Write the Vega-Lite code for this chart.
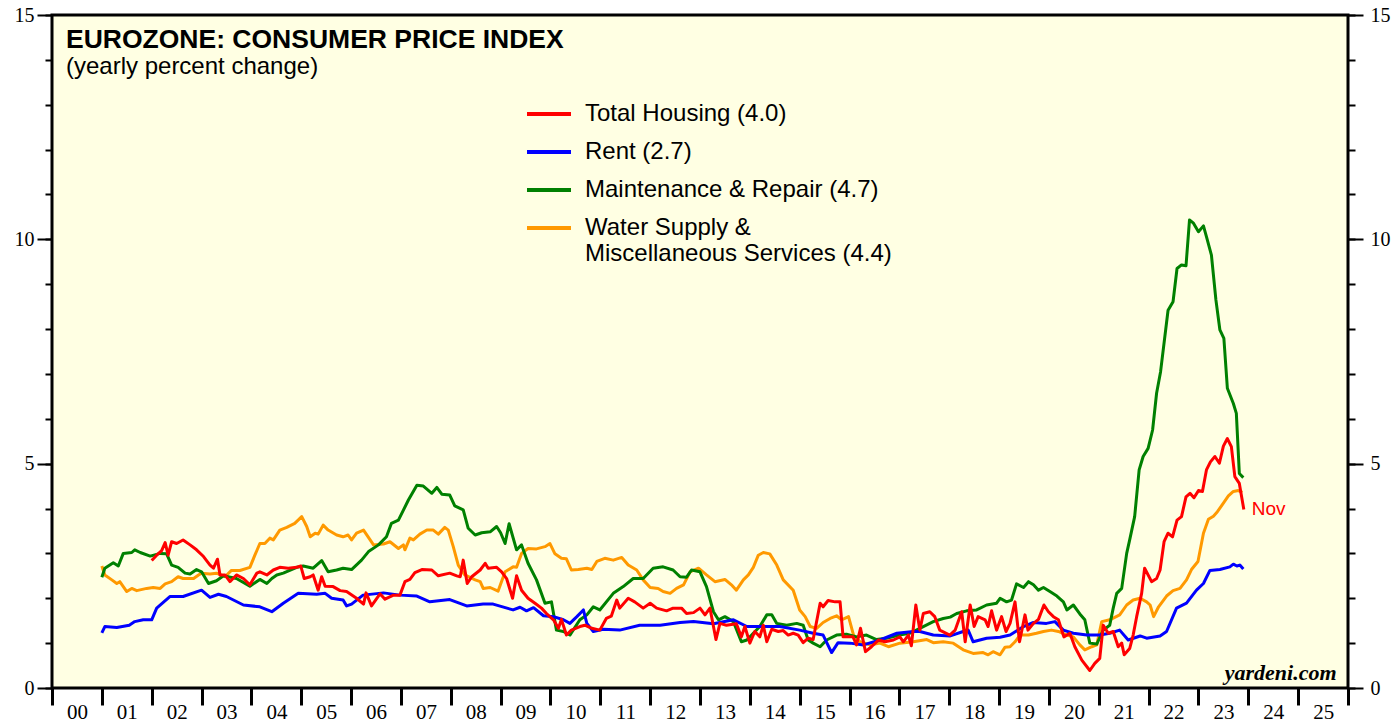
{
  "$schema": "https://vega.github.io/schema/vega-lite/v6.json",
  "width": 1296,
  "height": 673,
  "autosize": {"type": "none"},
  "padding": {"left": 52, "top": 15, "right": 46, "bottom": 31},
  "background": "white",
  "config": {"view": {"fill": "#FFFFE3", "stroke": "black", "strokeWidth": 3}, "font": "Liberation Sans"},
  "title": {"text": "EUROZONE: CONSUMER PRICE INDEX", "subtitle": "(yearly percent change)", "anchor": "start", "frame": "group", "orient": "top", "offset": 0, "dx": 14, "dy": 74, "font": "Liberation Sans", "fontSize": 26.5, "fontWeight": "bold", "color": "black", "subtitleFont": "Liberation Sans", "subtitleFontSize": 24, "subtitleColor": "black", "subtitlePadding": 2},
  "data": {"values": [
    {"s":"W","t":2001.0,"v":2.72},{"s":"W","t":2001.06,"v":2.52},{"s":"W","t":2001.2,"v":2.41},{"s":"W","t":2001.3,"v":2.33},{"s":"W","t":2001.36,"v":2.37},{"s":"W","t":2001.5,"v":2.15},{"s":"W","t":2001.6,"v":2.22},{"s":"W","t":2001.7,"v":2.17},{"s":"W","t":2001.9,"v":2.22},{"s":"W","t":2002.03,"v":2.24},{"s":"W","t":2002.17,"v":2.22},{"s":"W","t":2002.27,"v":2.32},{"s":"W","t":2002.4,"v":2.37},{"s":"W","t":2002.53,"v":2.48},{"s":"W","t":2002.63,"v":2.44},{"s":"W","t":2002.84,"v":2.44},{"s":"W","t":2002.94,"v":2.52},{"s":"W","t":2003.0,"v":2.56},{"s":"W","t":2003.17,"v":2.54},{"s":"W","t":2003.3,"v":2.56},{"s":"W","t":2003.47,"v":2.48},{"s":"W","t":2003.6,"v":2.62},{"s":"W","t":2003.77,"v":2.62},{"s":"W","t":2003.97,"v":2.69},{"s":"W","t":2004.07,"v":2.96},{"s":"W","t":2004.17,"v":3.22},{"s":"W","t":2004.27,"v":3.22},{"s":"W","t":2004.37,"v":3.34},{"s":"W","t":2004.44,"v":3.30},{"s":"W","t":2004.57,"v":3.52},{"s":"W","t":2004.71,"v":3.58},{"s":"W","t":2004.87,"v":3.67},{"s":"W","t":2005.01,"v":3.82},{"s":"W","t":2005.11,"v":3.60},{"s":"W","t":2005.18,"v":3.37},{"s":"W","t":2005.28,"v":3.45},{"s":"W","t":2005.34,"v":3.43},{"s":"W","t":2005.44,"v":3.63},{"s":"W","t":2005.54,"v":3.52},{"s":"W","t":2005.71,"v":3.41},{"s":"W","t":2005.84,"v":3.37},{"s":"W","t":2005.94,"v":3.41},{"s":"W","t":2006.01,"v":3.30},{"s":"W","t":2006.11,"v":3.45},{"s":"W","t":2006.25,"v":3.52},{"s":"W","t":2006.45,"v":3.19},{"s":"W","t":2006.65,"v":3.21},{"s":"W","t":2006.78,"v":3.26},{"s":"W","t":2006.95,"v":3.11},{"s":"W","t":2007.05,"v":3.19},{"s":"W","t":2007.08,"v":3.08},{"s":"W","t":2007.18,"v":3.34},{"s":"W","t":2007.25,"v":3.30},{"s":"W","t":2007.38,"v":3.43},{"s":"W","t":2007.52,"v":3.52},{"s":"W","t":2007.65,"v":3.52},{"s":"W","t":2007.75,"v":3.43},{"s":"W","t":2007.88,"v":3.58},{"s":"W","t":2007.95,"v":3.52},{"s":"W","t":2008.05,"v":3.15},{"s":"W","t":2008.15,"v":2.74},{"s":"W","t":2008.28,"v":2.52},{"s":"W","t":2008.49,"v":2.41},{"s":"W","t":2008.59,"v":2.37},{"s":"W","t":2008.65,"v":2.22},{"s":"W","t":2008.79,"v":2.24},{"s":"W","t":2008.95,"v":2.16},{"s":"W","t":2009.09,"v":2.59},{"s":"W","t":2009.25,"v":2.70},{"s":"W","t":2009.32,"v":2.69},{"s":"W","t":2009.42,"v":3.0},{"s":"W","t":2009.55,"v":3.11},{"s":"W","t":2009.72,"v":3.10},{"s":"W","t":2009.89,"v":3.15},{"s":"W","t":2009.99,"v":3.22},{"s":"W","t":2010.09,"v":2.99},{"s":"W","t":2010.22,"v":2.89},{"s":"W","t":2010.32,"v":2.88},{"s":"W","t":2010.42,"v":2.63},{"s":"W","t":2010.56,"v":2.64},{"s":"W","t":2010.73,"v":2.67},{"s":"W","t":2010.83,"v":2.64},{"s":"W","t":2010.93,"v":2.82},{"s":"W","t":2011.09,"v":2.89},{"s":"W","t":2011.26,"v":2.85},{"s":"W","t":2011.43,"v":2.91},{"s":"W","t":2011.56,"v":2.74},{"s":"W","t":2011.73,"v":2.63},{"s":"W","t":2011.86,"v":2.41},{"s":"W","t":2012.0,"v":2.24},{"s":"W","t":2012.16,"v":2.22},{"s":"W","t":2012.26,"v":2.15},{"s":"W","t":2012.4,"v":2.11},{"s":"W","t":2012.53,"v":2.22},{"s":"W","t":2012.67,"v":2.30},{"s":"W","t":2012.8,"v":2.59},{"s":"W","t":2012.97,"v":2.67},{"s":"W","t":2013.13,"v":2.52},{"s":"W","t":2013.3,"v":2.37},{"s":"W","t":2013.5,"v":2.42},{"s":"W","t":2013.63,"v":2.30},{"s":"W","t":2013.73,"v":2.18},{"s":"W","t":2013.87,"v":2.41},{"s":"W","t":2013.97,"v":2.52},{"s":"W","t":2014.07,"v":2.69},{"s":"W","t":2014.17,"v":2.96},{"s":"W","t":2014.27,"v":3.02},{"s":"W","t":2014.4,"v":2.99},{"s":"W","t":2014.54,"v":2.74},{"s":"W","t":2014.67,"v":2.41},{"s":"W","t":2014.87,"v":2.18},{"s":"W","t":2015.0,"v":1.74},{"s":"W","t":2015.11,"v":1.59},{"s":"W","t":2015.21,"v":1.37},{"s":"W","t":2015.34,"v":1.33},{"s":"W","t":2015.47,"v":1.46},{"s":"W","t":2015.61,"v":1.55},{"s":"W","t":2015.74,"v":1.61},{"s":"W","t":2015.84,"v":1.52},{"s":"W","t":2015.98,"v":1.59},{"s":"W","t":2016.08,"v":1.18},{"s":"W","t":2016.21,"v":1.03},{"s":"W","t":2016.41,"v":0.96},{"s":"W","t":2016.61,"v":1.0},{"s":"W","t":2016.78,"v":0.92},{"s":"W","t":2017.01,"v":1.0},{"s":"W","t":2017.28,"v":1.03},{"s":"W","t":2017.55,"v":1.08},{"s":"W","t":2017.68,"v":1.01},{"s":"W","t":2017.88,"v":1.03},{"s":"W","t":2018.08,"v":1.0},{"s":"W","t":2018.28,"v":0.85},{"s":"W","t":2018.48,"v":0.77},{"s":"W","t":2018.68,"v":0.79},{"s":"W","t":2018.78,"v":0.74},{"s":"W","t":2018.88,"v":0.81},{"s":"W","t":2019.02,"v":0.74},{"s":"W","t":2019.12,"v":0.91},{"s":"W","t":2019.22,"v":0.92},{"s":"W","t":2019.32,"v":1.03},{"s":"W","t":2019.42,"v":1.18},{"s":"W","t":2019.59,"v":1.18},{"s":"W","t":2019.75,"v":1.22},{"s":"W","t":2019.89,"v":1.26},{"s":"W","t":2020.05,"v":1.29},{"s":"W","t":2020.19,"v":1.26},{"s":"W","t":2020.36,"v":1.18},{"s":"W","t":2020.49,"v":1.14},{"s":"W","t":2020.62,"v":0.96},{"s":"W","t":2020.72,"v":0.85},{"s":"W","t":2020.86,"v":0.92},{"s":"W","t":2020.96,"v":0.96},{"s":"W","t":2021.06,"v":1.48},{"s":"W","t":2021.22,"v":1.52},{"s":"W","t":2021.42,"v":1.63},{"s":"W","t":2021.56,"v":1.85},{"s":"W","t":2021.69,"v":1.96},{"s":"W","t":2021.83,"v":2.0},{"s":"W","t":2021.96,"v":1.92},{"s":"W","t":2022.03,"v":1.85},{"s":"W","t":2022.1,"v":1.59},{"s":"W","t":2022.2,"v":1.81},{"s":"W","t":2022.36,"v":2.05},{"s":"W","t":2022.49,"v":2.17},{"s":"W","t":2022.63,"v":2.22},{"s":"W","t":2022.76,"v":2.41},{"s":"W","t":2022.86,"v":2.64},{"s":"W","t":2022.99,"v":2.82},{"s":"W","t":2023.1,"v":3.45},{"s":"W","t":2023.2,"v":3.76},{"s":"W","t":2023.3,"v":3.83},{"s":"W","t":2023.38,"v":3.93},{"s":"W","t":2023.5,"v":4.12},{"s":"W","t":2023.6,"v":4.28},{"s":"W","t":2023.7,"v":4.38},{"s":"W","t":2023.8,"v":4.40},{"s":"W","t":2023.88,"v":4.36},
    {"s":"M","t":2001.0,"v":2.47},{"s":"M","t":2001.06,"v":2.67},{"s":"M","t":2001.23,"v":2.79},{"s":"M","t":2001.33,"v":2.72},{"s":"M","t":2001.43,"v":3.0},{"s":"M","t":2001.6,"v":3.02},{"s":"M","t":2001.66,"v":3.08},{"s":"M","t":2001.77,"v":3.02},{"s":"M","t":2001.97,"v":2.94},{"s":"M","t":2002.17,"v":3.0},{"s":"M","t":2002.3,"v":2.99},{"s":"M","t":2002.4,"v":2.74},{"s":"M","t":2002.53,"v":2.69},{"s":"M","t":2002.67,"v":2.56},{"s":"M","t":2002.77,"v":2.54},{"s":"M","t":2002.9,"v":2.64},{"s":"M","t":2003.0,"v":2.59},{"s":"M","t":2003.14,"v":2.33},{"s":"M","t":2003.3,"v":2.39},{"s":"M","t":2003.44,"v":2.50},{"s":"M","t":2003.7,"v":2.44},{"s":"M","t":2003.97,"v":2.27},{"s":"M","t":2004.17,"v":2.42},{"s":"M","t":2004.31,"v":2.33},{"s":"M","t":2004.41,"v":2.44},{"s":"M","t":2004.51,"v":2.52},{"s":"M","t":2004.64,"v":2.56},{"s":"M","t":2004.91,"v":2.69},{"s":"M","t":2005.04,"v":2.72},{"s":"M","t":2005.24,"v":2.67},{"s":"M","t":2005.41,"v":2.84},{"s":"M","t":2005.54,"v":2.59},{"s":"M","t":2005.71,"v":2.63},{"s":"M","t":2005.84,"v":2.67},{"s":"M","t":2006.01,"v":2.64},{"s":"M","t":2006.21,"v":2.85},{"s":"M","t":2006.35,"v":3.04},{"s":"M","t":2006.55,"v":3.19},{"s":"M","t":2006.71,"v":3.37},{"s":"M","t":2006.81,"v":3.67},{"s":"M","t":2006.95,"v":3.74},{"s":"M","t":2007.15,"v":4.19},{"s":"M","t":2007.32,"v":4.52},{"s":"M","t":2007.45,"v":4.50},{"s":"M","t":2007.62,"v":4.34},{"s":"M","t":2007.72,"v":4.47},{"s":"M","t":2007.82,"v":4.32},{"s":"M","t":2007.98,"v":4.30},{"s":"M","t":2008.08,"v":4.06},{"s":"M","t":2008.25,"v":3.97},{"s":"M","t":2008.35,"v":3.56},{"s":"M","t":2008.49,"v":3.41},{"s":"M","t":2008.62,"v":3.46},{"s":"M","t":2008.79,"v":3.48},{"s":"M","t":2008.92,"v":3.60},{"s":"M","t":2009.0,"v":3.46},{"s":"M","t":2009.09,"v":3.22},{"s":"M","t":2009.17,"v":3.66},{"s":"M","t":2009.32,"v":3.08},{"s":"M","t":2009.42,"v":3.19},{"s":"M","t":2009.55,"v":2.78},{"s":"M","t":2009.72,"v":2.41},{"s":"M","t":2009.89,"v":1.89},{"s":"M","t":2010.02,"v":1.92},{"s":"M","t":2010.12,"v":1.29},{"s":"M","t":2010.26,"v":1.26},{"s":"M","t":2010.39,"v":1.18},{"s":"M","t":2010.59,"v":1.52},{"s":"M","t":2010.73,"v":1.63},{"s":"M","t":2010.86,"v":1.81},{"s":"M","t":2010.99,"v":1.74},{"s":"M","t":2011.26,"v":2.11},{"s":"M","t":2011.46,"v":2.26},{"s":"M","t":2011.66,"v":2.44},{"s":"M","t":2011.86,"v":2.44},{"s":"M","t":2012.06,"v":2.67},{"s":"M","t":2012.26,"v":2.70},{"s":"M","t":2012.46,"v":2.63},{"s":"M","t":2012.6,"v":2.48},{"s":"M","t":2012.73,"v":2.47},{"s":"M","t":2012.83,"v":2.63},{"s":"M","t":2013.0,"v":2.59},{"s":"M","t":2013.13,"v":2.26},{"s":"M","t":2013.27,"v":1.70},{"s":"M","t":2013.37,"v":1.52},{"s":"M","t":2013.5,"v":1.59},{"s":"M","t":2013.67,"v":1.48},{"s":"M","t":2013.83,"v":1.03},{"s":"M","t":2013.94,"v":1.07},{"s":"M","t":2014.07,"v":1.22},{"s":"M","t":2014.2,"v":1.37},{"s":"M","t":2014.34,"v":1.63},{"s":"M","t":2014.44,"v":1.63},{"s":"M","t":2014.54,"v":1.44},{"s":"M","t":2014.74,"v":1.40},{"s":"M","t":2014.94,"v":1.44},{"s":"M","t":2015.07,"v":1.40},{"s":"M","t":2015.17,"v":1.07},{"s":"M","t":2015.27,"v":1.0},{"s":"M","t":2015.41,"v":0.92},{"s":"M","t":2015.54,"v":1.07},{"s":"M","t":2015.74,"v":1.18},{"s":"M","t":2015.94,"v":1.20},{"s":"M","t":2016.14,"v":1.14},{"s":"M","t":2016.34,"v":1.18},{"s":"M","t":2016.54,"v":1.08},{"s":"M","t":2016.74,"v":1.11},{"s":"M","t":2017.0,"v":1.18},{"s":"M","t":2017.21,"v":1.22},{"s":"M","t":2017.41,"v":1.33},{"s":"M","t":2017.68,"v":1.48},{"s":"M","t":2017.88,"v":1.55},{"s":"M","t":2018.02,"v":1.58},{"s":"M","t":2018.15,"v":1.66},{"s":"M","t":2018.35,"v":1.72},{"s":"M","t":2018.55,"v":1.74},{"s":"M","t":2018.75,"v":1.85},{"s":"M","t":2018.95,"v":1.89},{"s":"M","t":2019.02,"v":2.0},{"s":"M","t":2019.15,"v":1.92},{"s":"M","t":2019.25,"v":1.96},{"s":"M","t":2019.35,"v":2.32},{"s":"M","t":2019.49,"v":2.24},{"s":"M","t":2019.59,"v":2.37},{"s":"M","t":2019.69,"v":2.30},{"s":"M","t":2019.79,"v":2.18},{"s":"M","t":2019.89,"v":2.24},{"s":"M","t":2020.02,"v":2.15},{"s":"M","t":2020.16,"v":2.05},{"s":"M","t":2020.29,"v":1.92},{"s":"M","t":2020.36,"v":1.74},{"s":"M","t":2020.49,"v":1.85},{"s":"M","t":2020.62,"v":1.65},{"s":"M","t":2020.72,"v":1.52},{"s":"M","t":2020.82,"v":1.0},{"s":"M","t":2020.96,"v":0.98},{"s":"M","t":2021.09,"v":1.29},{"s":"M","t":2021.22,"v":1.40},{"s":"M","t":2021.29,"v":1.78},{"s":"M","t":2021.36,"v":2.11},{"s":"M","t":2021.46,"v":2.22},{"s":"M","t":2021.56,"v":3.0},{"s":"M","t":2021.62,"v":3.30},{"s":"M","t":2021.72,"v":3.82},{"s":"M","t":2021.81,"v":4.86},{"s":"M","t":2021.89,"v":5.16},{"s":"M","t":2021.99,"v":5.34},{"s":"M","t":2022.08,"v":5.75},{"s":"M","t":2022.16,"v":6.57},{"s":"M","t":2022.24,"v":7.05},{"s":"M","t":2022.39,"v":8.42},{"s":"M","t":2022.49,"v":8.61},{"s":"M","t":2022.57,"v":9.35},{"s":"M","t":2022.66,"v":9.43},{"s":"M","t":2022.75,"v":9.41},{"s":"M","t":2022.82,"v":10.43},{"s":"M","t":2022.9,"v":10.36},{"s":"M","t":2023.0,"v":10.17},{"s":"M","t":2023.1,"v":10.30},{"s":"M","t":2023.16,"v":10.06},{"s":"M","t":2023.26,"v":9.65},{"s":"M","t":2023.35,"v":8.65},{"s":"M","t":2023.43,"v":7.98},{"s":"M","t":2023.51,"v":7.79},{"s":"M","t":2023.58,"v":6.68},{"s":"M","t":2023.7,"v":6.34},{"s":"M","t":2023.76,"v":6.12},{"s":"M","t":2023.82,"v":4.78},{"s":"M","t":2023.9,"v":4.69},
    {"s":"R","t":2001.0,"v":1.23},{"s":"R","t":2001.06,"v":1.37},{"s":"R","t":2001.3,"v":1.35},{"s":"R","t":2001.55,"v":1.40},{"s":"R","t":2001.66,"v":1.48},{"s":"R","t":2001.83,"v":1.52},{"s":"R","t":2002.0,"v":1.52},{"s":"R","t":2002.1,"v":1.78},{"s":"R","t":2002.37,"v":2.04},{"s":"R","t":2002.63,"v":2.04},{"s":"R","t":2003.0,"v":2.18},{"s":"R","t":2003.17,"v":2.02},{"s":"R","t":2003.34,"v":2.09},{"s":"R","t":2003.5,"v":2.04},{"s":"R","t":2003.84,"v":1.85},{"s":"R","t":2004.17,"v":1.81},{"s":"R","t":2004.41,"v":1.70},{"s":"R","t":2004.64,"v":1.89},{"s":"R","t":2004.94,"v":2.11},{"s":"R","t":2005.31,"v":2.09},{"s":"R","t":2005.48,"v":2.11},{"s":"R","t":2005.61,"v":2.0},{"s":"R","t":2005.84,"v":1.96},{"s":"R","t":2005.91,"v":1.83},{"s":"R","t":2006.01,"v":1.87},{"s":"R","t":2006.24,"v":2.07},{"s":"R","t":2006.65,"v":2.12},{"s":"R","t":2006.98,"v":2.07},{"s":"R","t":2007.32,"v":2.05},{"s":"R","t":2007.58,"v":1.92},{"s":"R","t":2007.98,"v":1.97},{"s":"R","t":2008.32,"v":1.83},{"s":"R","t":2008.65,"v":1.87},{"s":"R","t":2008.85,"v":1.87},{"s":"R","t":2009.25,"v":1.74},{"s":"R","t":2009.39,"v":1.80},{"s":"R","t":2009.52,"v":1.72},{"s":"R","t":2009.66,"v":1.79},{"s":"R","t":2009.86,"v":1.61},{"s":"R","t":2010.06,"v":1.59},{"s":"R","t":2010.26,"v":1.52},{"s":"R","t":2010.39,"v":1.44},{"s":"R","t":2010.53,"v":1.59},{"s":"R","t":2010.66,"v":1.74},{"s":"R","t":2010.73,"v":1.44},{"s":"R","t":2010.86,"v":1.26},{"s":"R","t":2011.06,"v":1.31},{"s":"R","t":2011.39,"v":1.29},{"s":"R","t":2011.79,"v":1.40},{"s":"R","t":2012.2,"v":1.40},{"s":"R","t":2012.6,"v":1.46},{"s":"R","t":2012.87,"v":1.48},{"s":"R","t":2013.27,"v":1.43},{"s":"R","t":2013.67,"v":1.52},{"s":"R","t":2013.94,"v":1.37},{"s":"R","t":2014.27,"v":1.37},{"s":"R","t":2014.6,"v":1.37},{"s":"R","t":2015.0,"v":1.29},{"s":"R","t":2015.27,"v":1.22},{"s":"R","t":2015.47,"v":1.18},{"s":"R","t":2015.64,"v":0.79},{"s":"R","t":2015.77,"v":1.01},{"s":"R","t":2016.01,"v":1.0},{"s":"R","t":2016.28,"v":0.96},{"s":"R","t":2016.61,"v":1.07},{"s":"R","t":2016.95,"v":1.22},{"s":"R","t":2017.28,"v":1.26},{"s":"R","t":2017.41,"v":1.26},{"s":"R","t":2017.68,"v":1.18},{"s":"R","t":2018.02,"v":1.16},{"s":"R","t":2018.28,"v":1.26},{"s":"R","t":2018.38,"v":1.29},{"s":"R","t":2018.48,"v":1.03},{"s":"R","t":2018.75,"v":1.11},{"s":"R","t":2019.02,"v":1.13},{"s":"R","t":2019.22,"v":1.18},{"s":"R","t":2019.49,"v":1.37},{"s":"R","t":2019.69,"v":1.46},{"s":"R","t":2019.95,"v":1.44},{"s":"R","t":2020.12,"v":1.48},{"s":"R","t":2020.29,"v":1.29},{"s":"R","t":2020.49,"v":1.22},{"s":"R","t":2020.76,"v":1.18},{"s":"R","t":2021.02,"v":1.18},{"s":"R","t":2021.22,"v":1.22},{"s":"R","t":2021.42,"v":1.29},{"s":"R","t":2021.59,"v":1.07},{"s":"R","t":2021.83,"v":1.16},{"s":"R","t":2021.96,"v":1.11},{"s":"R","t":2022.23,"v":1.16},{"s":"R","t":2022.36,"v":1.26},{"s":"R","t":2022.56,"v":1.78},{"s":"R","t":2022.76,"v":1.89},{"s":"R","t":2022.96,"v":2.18},{"s":"R","t":2023.1,"v":2.33},{"s":"R","t":2023.23,"v":2.62},{"s":"R","t":2023.43,"v":2.64},{"s":"R","t":2023.63,"v":2.70},{"s":"R","t":2023.7,"v":2.76},{"s":"R","t":2023.77,"v":2.72},{"s":"R","t":2023.83,"v":2.74},{"s":"R","t":2023.9,"v":2.65},
    {"s":"H","t":2002.0,"v":2.84},{"s":"H","t":2002.1,"v":2.96},{"s":"H","t":2002.2,"v":3.06},{"s":"H","t":2002.27,"v":3.24},{"s":"H","t":2002.33,"v":2.96},{"s":"H","t":2002.4,"v":3.26},{"s":"H","t":2002.5,"v":3.22},{"s":"H","t":2002.63,"v":3.30},{"s":"H","t":2002.77,"v":3.19},{"s":"H","t":2002.9,"v":3.08},{"s":"H","t":2003.04,"v":2.93},{"s":"H","t":2003.17,"v":2.74},{"s":"H","t":2003.24,"v":2.67},{"s":"H","t":2003.32,"v":2.87},{"s":"H","t":2003.37,"v":2.52},{"s":"H","t":2003.47,"v":2.52},{"s":"H","t":2003.57,"v":2.37},{"s":"H","t":2003.7,"v":2.52},{"s":"H","t":2003.84,"v":2.44},{"s":"H","t":2003.97,"v":2.30},{"s":"H","t":2004.11,"v":2.56},{"s":"H","t":2004.17,"v":2.59},{"s":"H","t":2004.31,"v":2.52},{"s":"H","t":2004.44,"v":2.63},{"s":"H","t":2004.57,"v":2.69},{"s":"H","t":2004.74,"v":2.67},{"s":"H","t":2004.91,"v":2.69},{"s":"H","t":2004.99,"v":2.72},{"s":"H","t":2005.06,"v":2.44},{"s":"H","t":2005.18,"v":2.48},{"s":"H","t":2005.24,"v":2.52},{"s":"H","t":2005.34,"v":2.18},{"s":"H","t":2005.41,"v":2.48},{"s":"H","t":2005.48,"v":2.27},{"s":"H","t":2005.64,"v":2.26},{"s":"H","t":2005.78,"v":2.17},{"s":"H","t":2005.91,"v":2.15},{"s":"H","t":2006.11,"v":2.0},{"s":"H","t":2006.25,"v":1.87},{"s":"H","t":2006.3,"v":2.12},{"s":"H","t":2006.41,"v":1.83},{"s":"H","t":2006.58,"v":2.10},{"s":"H","t":2006.68,"v":1.98},{"s":"H","t":2006.85,"v":2.07},{"s":"H","t":2006.98,"v":2.07},{"s":"H","t":2007.08,"v":2.37},{"s":"H","t":2007.18,"v":2.42},{"s":"H","t":2007.28,"v":2.57},{"s":"H","t":2007.42,"v":2.64},{"s":"H","t":2007.62,"v":2.63},{"s":"H","t":2007.75,"v":2.50},{"s":"H","t":2007.98,"v":2.56},{"s":"H","t":2008.12,"v":2.50},{"s":"H","t":2008.19,"v":2.48},{"s":"H","t":2008.25,"v":2.85},{"s":"H","t":2008.33,"v":2.33},{"s":"H","t":2008.42,"v":2.48},{"s":"H","t":2008.59,"v":2.63},{"s":"H","t":2008.69,"v":2.78},{"s":"H","t":2008.75,"v":2.67},{"s":"H","t":2008.92,"v":2.69},{"s":"H","t":2009.02,"v":2.59},{"s":"H","t":2009.12,"v":2.44},{"s":"H","t":2009.24,"v":2.0},{"s":"H","t":2009.32,"v":2.50},{"s":"H","t":2009.42,"v":2.18},{"s":"H","t":2009.55,"v":2.0},{"s":"H","t":2009.69,"v":1.89},{"s":"H","t":2009.82,"v":1.78},{"s":"H","t":2009.92,"v":1.66},{"s":"H","t":2010.06,"v":1.52},{"s":"H","t":2010.16,"v":1.33},{"s":"H","t":2010.22,"v":1.53},{"s":"H","t":2010.32,"v":1.18},{"s":"H","t":2010.42,"v":1.29},{"s":"H","t":2010.59,"v":1.37},{"s":"H","t":2010.69,"v":1.40},{"s":"H","t":2010.83,"v":1.33},{"s":"H","t":2010.99,"v":1.29},{"s":"H","t":2011.12,"v":1.55},{"s":"H","t":2011.22,"v":1.60},{"s":"H","t":2011.33,"v":1.96},{"s":"H","t":2011.39,"v":1.78},{"s":"H","t":2011.56,"v":2.0},{"s":"H","t":2011.69,"v":1.92},{"s":"H","t":2011.86,"v":1.78},{"s":"H","t":2012.0,"v":1.89},{"s":"H","t":2012.13,"v":1.78},{"s":"H","t":2012.33,"v":1.72},{"s":"H","t":2012.46,"v":1.78},{"s":"H","t":2012.63,"v":1.78},{"s":"H","t":2012.73,"v":1.66},{"s":"H","t":2012.87,"v":1.68},{"s":"H","t":2013.0,"v":1.78},{"s":"H","t":2013.1,"v":1.63},{"s":"H","t":2013.2,"v":1.78},{"s":"H","t":2013.32,"v":1.08},{"s":"H","t":2013.4,"v":1.44},{"s":"H","t":2013.53,"v":1.40},{"s":"H","t":2013.73,"v":1.43},{"s":"H","t":2013.83,"v":1.14},{"s":"H","t":2013.9,"v":1.37},{"s":"H","t":2014.0,"v":1.0},{"s":"H","t":2014.1,"v":1.26},{"s":"H","t":2014.2,"v":1.14},{"s":"H","t":2014.27,"v":1.40},{"s":"H","t":2014.34,"v":1.03},{"s":"H","t":2014.44,"v":1.31},{"s":"H","t":2014.57,"v":1.26},{"s":"H","t":2014.67,"v":1.28},{"s":"H","t":2014.77,"v":1.18},{"s":"H","t":2014.87,"v":1.22},{"s":"H","t":2014.97,"v":1.18},{"s":"H","t":2015.07,"v":1.01},{"s":"H","t":2015.17,"v":1.11},{"s":"H","t":2015.27,"v":1.08},{"s":"H","t":2015.41,"v":1.89},{"s":"H","t":2015.47,"v":1.81},{"s":"H","t":2015.57,"v":1.95},{"s":"H","t":2015.71,"v":1.92},{"s":"H","t":2015.81,"v":1.92},{"s":"H","t":2015.87,"v":1.14},{"s":"H","t":2016.01,"v":1.14},{"s":"H","t":2016.07,"v":1.14},{"s":"H","t":2016.14,"v":0.96},{"s":"H","t":2016.22,"v":1.33},{"s":"H","t":2016.32,"v":0.81},{"s":"H","t":2016.44,"v":0.92},{"s":"H","t":2016.58,"v":1.07},{"s":"H","t":2016.71,"v":1.03},{"s":"H","t":2016.88,"v":1.07},{"s":"H","t":2017.01,"v":1.14},{"s":"H","t":2017.08,"v":1.03},{"s":"H","t":2017.18,"v":1.18},{"s":"H","t":2017.24,"v":0.94},{"s":"H","t":2017.33,"v":1.85},{"s":"H","t":2017.41,"v":1.29},{"s":"H","t":2017.48,"v":1.66},{"s":"H","t":2017.61,"v":1.70},{"s":"H","t":2017.71,"v":1.59},{"s":"H","t":2017.81,"v":1.29},{"s":"H","t":2018.01,"v":1.18},{"s":"H","t":2018.12,"v":1.29},{"s":"H","t":2018.25,"v":1.70},{"s":"H","t":2018.32,"v":1.03},{"s":"H","t":2018.42,"v":1.85},{"s":"H","t":2018.5,"v":1.37},{"s":"H","t":2018.58,"v":1.59},{"s":"H","t":2018.72,"v":1.52},{"s":"H","t":2018.78,"v":1.37},{"s":"H","t":2018.85,"v":1.72},{"s":"H","t":2018.95,"v":1.29},{"s":"H","t":2019.05,"v":1.59},{"s":"H","t":2019.14,"v":1.26},{"s":"H","t":2019.22,"v":1.44},{"s":"H","t":2019.32,"v":1.92},{"s":"H","t":2019.41,"v":1.03},{"s":"H","t":2019.52,"v":1.63},{"s":"H","t":2019.58,"v":1.29},{"s":"H","t":2019.69,"v":1.44},{"s":"H","t":2019.79,"v":1.53},{"s":"H","t":2019.9,"v":1.85},{"s":"H","t":2019.99,"v":1.70},{"s":"H","t":2020.09,"v":1.59},{"s":"H","t":2020.19,"v":1.52},{"s":"H","t":2020.3,"v":1.14},{"s":"H","t":2020.42,"v":1.22},{"s":"H","t":2020.52,"v":0.92},{"s":"H","t":2020.66,"v":0.62},{"s":"H","t":2020.82,"v":0.39},{"s":"H","t":2020.92,"v":0.55},{"s":"H","t":2021.02,"v":0.66},{"s":"H","t":2021.09,"v":1.40},{"s":"H","t":2021.19,"v":1.22},{"s":"H","t":2021.29,"v":1.26},{"s":"H","t":2021.39,"v":0.92},{"s":"H","t":2021.46,"v":1.0},{"s":"H","t":2021.51,"v":0.74},{"s":"H","t":2021.62,"v":0.88},{"s":"H","t":2021.69,"v":1.18},{"s":"H","t":2021.76,"v":1.59},{"s":"H","t":2021.86,"v":2.11},{"s":"H","t":2021.92,"v":2.67},{"s":"H","t":2022.06,"v":2.37},{"s":"H","t":2022.16,"v":2.44},{"s":"H","t":2022.23,"v":2.63},{"s":"H","t":2022.31,"v":3.26},{"s":"H","t":2022.39,"v":3.45},{"s":"H","t":2022.48,"v":3.37},{"s":"H","t":2022.57,"v":3.74},{"s":"H","t":2022.66,"v":3.82},{"s":"H","t":2022.75,"v":4.26},{"s":"H","t":2022.83,"v":4.34},{"s":"H","t":2022.91,"v":4.24},{"s":"H","t":2023.0,"v":4.40},{"s":"H","t":2023.08,"v":4.38},{"s":"H","t":2023.16,"v":4.86},{"s":"H","t":2023.24,"v":5.04},{"s":"H","t":2023.33,"v":5.16},{"s":"H","t":2023.42,"v":5.01},{"s":"H","t":2023.5,"v":5.39},{"s":"H","t":2023.58,"v":5.56},{"s":"H","t":2023.66,"v":5.38},{"s":"H","t":2023.73,"v":4.71},{"s":"H","t":2023.82,"v":4.56},{"s":"H","t":2023.91,"v":3.98}
  ]},
  "resolve": {"axis": {"x": "independent", "y": "independent"}},
  "layer": [
    {
      "transform": [{"filter": "datum.s != 'H'"}],
      "mark": {"type": "line", "strokeWidth": 3, "strokeJoin": "round"},
      "encoding": {
        "x": {"field": "t", "type": "quantitative", "scale": {"domain": [2000, 2026], "nice": false, "zero": false},
          "axis": {"title": null, "values": [2000,2001,2002,2003,2004,2005,2006,2007,2008,2009,2010,2011,2012,2013,2014,2015,2016,2017,2018,2019,2020,2021,2022,2023,2024,2025,2026],
            "domain": false, "grid": false, "tickSize": 17, "tickWidth": 3, "tickColor": "black",
            "labelExpr": "datum.value < 2026 ? slice(toString(datum.value), 2) : ''",
            "labelOffset": 25, "labelFont": "Liberation Serif", "labelFontSize": 21, "labelColor": "black",
            "labelPadding": -4, "labelBaseline": "top", "labelFlush": false, "labelOverlap": false}},
        "y": {"field": "v", "type": "quantitative", "scale": {"domain": [0, 15], "nice": false, "zero": true},
          "axis": {"title": null, "orient": "left", "values": [0, 5, 10, 15],
            "domain": false, "grid": false, "tickColor": "black", "tickWidth": 2, "tickSize": 15,
            "labelFont": "Liberation Serif", "labelFontSize": 20, "labelColor": "black", "labelPadding": 3, "labelFlush": false, "labelOverlap": false}},
        "color": {"field": "s", "type": "nominal",
          "scale": {"domain": ["H", "R", "M", "W"], "range": ["#FF0000", "#0000FF", "#008000", "#FF9900"]},
          "legend": {"orient": "none", "legendX": 484, "legendY": 86, "title": null, "padding": 0,
            "symbolType": "M-2,0H2", "symbolSize": 484, "symbolStrokeWidth": 4,
            "labelFont": "Liberation Sans", "labelFontSize": 24, "labelColor": "black", "labelOffset": 23, "labelLimit": 600, "rowPadding": 13,
            "labelExpr": "datum.value == 'H' ? 'Total Housing (4.0)' : datum.value == 'R' ? 'Rent (2.7)' : datum.value == 'M' ? 'Maintenance & Repair (4.7)' : ['Water Supply &', 'Miscellaneous Services (4.4)']"}}
      }
    },
    {
      "transform": [{"filter": "datum.s == 'H'"}],
      "mark": {"type": "line", "strokeWidth": 3, "strokeJoin": "round"},
      "encoding": {
        "x": {"field": "t", "type": "quantitative", "axis": null},
        "y": {"field": "v", "type": "quantitative",
          "axis": {"title": null, "orient": "right", "values": [0, 5, 10, 15],
            "domain": false, "grid": false, "tickColor": "black", "tickWidth": 2, "tickSize": 15,
            "labelFont": "Liberation Serif", "labelFontSize": 20, "labelColor": "black", "labelPadding": 7, "labelFlush": false, "labelOverlap": false}},
        "color": {"field": "s", "type": "nominal"}
      }
    },
    {
      "transform": [
        {"filter": "datum.s == 'H'"},
        {"joinaggregate": [{"op": "max", "field": "t", "as": "tmax"}]},
        {"filter": "datum.t == datum.tmax"}
      ],
      "mark": {"type": "text", "align": "left", "baseline": "middle", "dx": 8, "font": "Liberation Sans", "fontSize": 19, "color": "#FF0000"},
      "encoding": {
        "x": {"field": "t", "type": "quantitative", "axis": null},
        "y": {"field": "v", "type": "quantitative",
          "axis": {"title": null, "orient": "left", "values": [0,1,2,3,4,5,6,7,8,9,10,11,12,13,14,15],
            "domain": false, "grid": false, "tickColor": "black", "tickWidth": 2, "tickSize": 7, "labels": false}},
        "text": {"value": "Nov"}
      }
    },
    {
      "data": {"values": [{"label": "yardeni.com"}]},
      "mark": {"type": "text", "align": "right", "baseline": "alphabetic", "font": "Liberation Serif", "fontSize": 22, "fontWeight": "bold", "fontStyle": "italic", "color": "black"},
      "encoding": {
        "x": {"datum": 2025.77, "type": "quantitative", "axis": null},
        "y": {"datum": 0.18, "type": "quantitative",
          "axis": {"title": null, "orient": "right", "values": [0,1,2,3,4,5,6,7,8,9,10,11,12,13,14,15],
            "domain": false, "grid": false, "tickColor": "black", "tickWidth": 2, "tickSize": 7, "labels": false}},
        "text": {"field": "label"}
      }
    }
  ]
}
